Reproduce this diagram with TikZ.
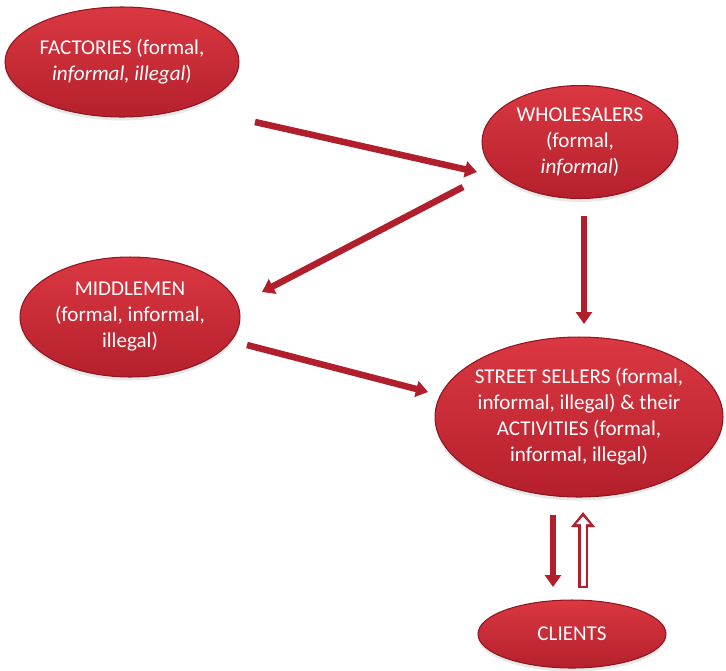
\documentclass[tikz,border=0pt]{standalone}
\usepackage{fontspec}
\setmainfont{Carlito}
\usepackage{xcolor}
\usepackage{tikz}
\usetikzlibrary{shapes.geometric, arrows.meta, shadows}

\definecolor{blobtop}{HTML}{DA3842}
\definecolor{blobbot}{HTML}{B5202C}
\definecolor{blobrim}{HTML}{8E1620}
\definecolor{arrowred}{HTML}{B11E2C}

\begin{document}
\begin{tikzpicture}[x=0.02cm, y=-0.02cm,
    blob/.style={ellipse, top color=blobtop, bottom color=blobbot, draw=blobrim, line width=0.6pt,
      text=white, align=center, inner sep=0pt, font=\fontsize{12}{14.8}\selectfont,
      drop shadow={opacity=0.18, shadow xshift=0pt, shadow yshift=-2pt}},
    flow/.style={draw=arrowred, line width=0.13cm, -{Triangle[length=0.24cm, width=0.32cm]}},
    backflow/.style={draw=arrowred, line width=0.2cm, -{Triangle[length=0.3cm, width=0.46cm]}}]
     \useasboundingbox (0,0) rectangle (726,670);

     \node[blob, minimum width=4.68cm, minimum height=2.2cm] (fac) at (122,62)
       {FACTORIES (formal,\\ \textit{informal, illegal})};
     \node[blob, minimum width=3.92cm, minimum height=2.26cm] (whole) at (580,142)
       {WHOLESALERS\\(formal,\\ \textit{informal})};
     \node[blob, minimum width=4.4cm, minimum height=2.4cm] (mid) at (130,317)
       {MIDDLEMEN\\(formal, informal,\\illegal)};
     \node[blob, minimum width=5.76cm, minimum height=3.2cm, inner xsep=-0.55cm] (street) at (579,417)
       {STREET SELLERS (formal,\\informal, illegal) \& their\\ACTIVITIES (formal,\\informal, illegal)};
     \node[blob, minimum width=3.76cm, minimum height=1.36cm] (clients) at (572,634) {CLIENTS};

     \draw[flow] ([shift={(133,60)}]fac.center) -- ([shift={(-103,30)}]whole.center);
     \draw[flow] ([shift={(-117,45)}]whole.center) -- ([shift={(132,-25)}]mid.center);
     \draw[flow] ([shift={(4,74)}]whole.center) -- ([shift={(5,-93)}]street.center);
     \draw[flow] ([shift={(117,28)}]mid.center) -- ([shift={(-151,-25)}]street.center);
     \draw[flow] ([shift={(-26,98)}]street.center) -- ([shift={(-19,-47)}]clients.center);

     % hollow arrow back up
     \draw[backflow] ([shift={(11,-46)}]clients.center) -- ([shift={(4,95)}]street.center);
     \draw[white, line width=0.1cm, shorten <=0.05cm, shorten >=0.09cm,
       -{Triangle[length=0.15cm, width=0.26cm]}]
       ([shift={(11,-46)}]clients.center) -- ([shift={(4,95)}]street.center);
 \end{tikzpicture}
\end{document}
